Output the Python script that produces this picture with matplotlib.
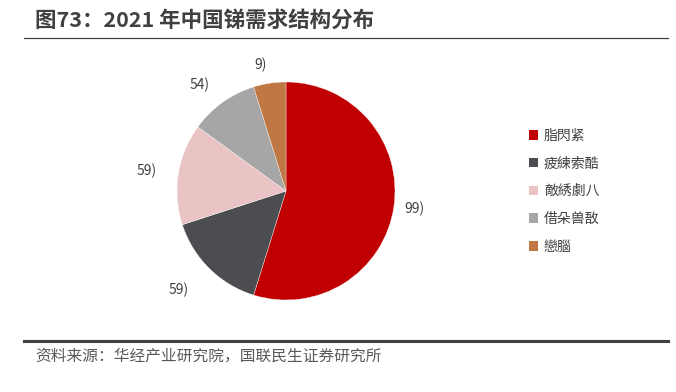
import matplotlib
matplotlib.use("Agg")
import matplotlib.pyplot as plt
from matplotlib.lines import Line2D
import numpy as np

plt.rcParams['font.family'] = ['Noto Sans CJK SC', 'DejaVu Sans']

categories = ["脂閃紧", "疲練索酷", "敵綉劇八", "借朵兽敔", "戀腦"]
values = [54.8, 15.2, 15.0, 10.2, 4.8]
value_labels = ["99)", "59)", "59)", "54)", "9)"]
colors = ["#C00000", "#4B4D50", "#EAC4C5", "#A6A6A6", "#BF7843"]

title = "图73：2021 年中国锑需求结构分布"
source = "资料来源：华经产业研究院，国联民生证券研究所"

W, H = 676, 392
fig = plt.figure(figsize=(W / 100, H / 100), dpi=100)

# pie axes: center (286,191) px, radius 109 px
R = 109
cx, cy = 286, H - 191
k = 1.5
ax = fig.add_axes([(cx - R * k) / W, (cy - R * k) / H, 2 * R * k / W, 2 * R * k / H])
wedges, texts = ax.pie(values, labels=value_labels, colors=colors, startangle=90,
                       counterclock=False, labeldistance=1.2,
                       wedgeprops=dict(edgecolor="white", linewidth=0.25),
                       textprops=dict(color="#404040", fontsize=10))
label_dist = [1.1, 1.27, 1.2, 1.2, 1.17]
for w, t, d in zip(wedges, texts, label_dist):
    ang = np.deg2rad((w.theta1 + w.theta2) / 2)
    t.set_position((d * np.cos(ang), d * np.sin(ang)))
ax.set_xlim(-k, k)
ax.set_ylim(-k, k)
ax.set_aspect("auto")
ax.axis("off")

leg = fig.legend(wedges, categories, loc="upper left",
                 bbox_to_anchor=(516 / W, (H - 116) / H), frameon=False,
                 fontsize=10, handlelength=0.7, handleheight=0.7,
                 handletextpad=0.4, labelspacing=1.0, labelcolor="#404040")
for h in leg.legend_handles:
    h.set_edgecolor("none")

fig.text(35 / W, (H - 20) / H, title, fontsize=15.5, fontweight="bold",
         color="#404040", ha="left", va="center")
fig.add_artist(Line2D([24 / W, 668 / W], [(H - 38) / H] * 2, color="#404040", lw=0.9))
fig.add_artist(Line2D([24 / W, 668 / W], [(H - 341) / H] * 2, color="#404040", lw=2.2))
fig.text(35 / W, (H - 356) / H, source, fontsize=11.3, color="#595959",
         ha="left", va="center")

fig.savefig("out.png", dpi=100)
